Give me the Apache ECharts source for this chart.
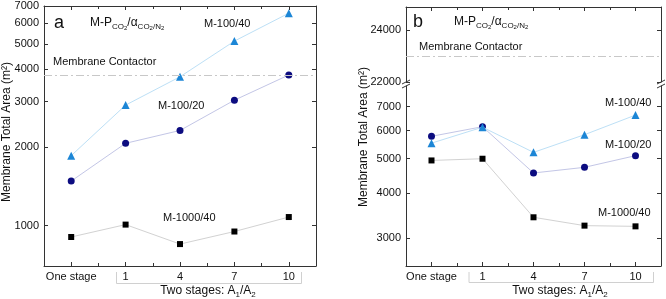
<!DOCTYPE html>
<html><head><meta charset="utf-8">
<script src="https://cdn.jsdelivr.net/npm/echarts@6/dist/echarts.min.js"></script>
<style>html,body{margin:0;padding:0;background:#fff}#c{width:666px;height:299px}</style>
</head><body><div id="c"></div>
<script>
// ---- data ----
var categories = ['One stage', '1', '4', '7', '10'];
var a_M100_40 = [1860, 2910, 3740, 5130, 6570];
var a_M100_20 = [1485, 2075, 2325, 3040, 3800];
var a_M1000_40 = [905, 1010, 850, 950, 1080];
var a_contactor = 3780;
var a_yTicks = [1000, 2000, 3000, 4000, 5000, 6000, 7000];

var b_M100_40 = [5530, 6130, 5210, 5840, 6630];
var b_M100_20 = [5780, 6150, 4560, 4730, 5100];
var b_M1000_40 = [4945, 5000, 3425, 3245, 3230];
var b_contactor = 23000;
var b_yTicksLow = [3000, 4000, 5000, 6000, 7000];
var b_yTicksHigh = [22000, 24000];

// ---- styling ----
var AX = '#333';
var FONT = 'Liberation Sans, Arial, sans-serif';
var chart = echarts.init(document.getElementById('c'), null, {renderer: 'canvas'});

function xMain(grid, pos, labels) {
  return {type: 'category', data: categories, gridIndex: grid, position: pos, boundaryGap: true,
    axisLine: {show: true, lineStyle: {color: AX, width: 1}},
    axisTick: {show: true, inside: true, length: 4, alignWithLabel: true, interval: 0, lineStyle: {color: AX}},
    axisLabel: {show: labels, interval: 0, color: '#111', fontSize: 11, fontFamily: FONT, margin: 5},
    splitLine: {show: false}};
}
function xMinor(grid, pos) {
  return {type: 'category', data: categories, gridIndex: grid, position: pos, boundaryGap: true,
    axisLine: {show: false},
    axisTick: {show: true, inside: true, length: 3, interval: 0, lineStyle: {color: AX}},
    axisLabel: {show: false}, splitLine: {show: false}};
}
function yAx(grid, pos, type, min, max, ticks, labels) {
  return {type: type, gridIndex: grid, position: pos, min: min, max: max,
    axisLine: {show: true, lineStyle: {color: AX, width: 1}},
    axisTick: {show: true, inside: true, length: 4, customValues: ticks, lineStyle: {color: AX}},
    axisLabel: {show: labels, customValues: ticks, color: '#111', fontSize: 11, fontFamily: FONT, margin: 5,
      formatter: function (v) { return String(Math.round(v)); }},
    minorTick: {show: false}, splitLine: {show: false}};
}
function lineSeries(x, y, data, sym, size, mcol, lcol, z) {
  return {type: 'line', xAxisIndex: x, yAxisIndex: y, data: data, symbol: sym, symbolSize: size,
    itemStyle: {color: mcol}, lineStyle: {color: lcol, width: 1}, z: z, silent: true};
}
function contactorLine(v) {
  return {symbol: 'none', silent: true, label: {show: false},
    lineStyle: {color: '#c8c8c8', width: 1, type: [8, 3, 2, 3]}, data: [{yAxis: v}]};
}
function txt(x, y, text, size, extra) {
  var s = {text: text, x: x, y: y, fill: '#111', font: size + 'px ' + FONT, verticalAlign: 'middle', align: 'left'};
  if (extra) for (var k in extra) s[k] = extra[k];
  return {type: 'text', style: s, silent: true, z: 100};
}
var richMP = {
  n: {fontSize: 12, fontFamily: FONT, fill: '#111', lineHeight: 16},
  s: {fontSize: 8, fontFamily: FONT, fill: '#111', verticalAlign: 'bottom', lineHeight: 16},
  ss: {fontSize: 6, fontFamily: FONT, fill: '#111', verticalAlign: 'bottom', lineHeight: 14}
};
function mpLabel(x, y) {
  return {type: 'text', silent: true, z: 100, style: {
    x: x, y: y, verticalAlign: 'middle',
    text: '{n|M-P}{s|CO}{ss|2}{n|/α}{s|CO}{ss|2}{s|/N}{ss|2}', rich: richMP}};
}
function twoStages(x, y) {
  return {type: 'text', silent: true, z: 100, style: {
    x: x, y: y, align: 'center', verticalAlign: 'middle',
    text: '{n|Two stages: A}{s|1}{n|/A}{s|2}',
    rich: {n: {fontSize: 12, fontFamily: FONT, fill: '#111', lineHeight: 16},
           s: {fontSize: 8, fontFamily: FONT, fill: '#111', verticalAlign: 'bottom', lineHeight: 14}}}};
}
function yName(x, y, size) {
  return {type: 'text', silent: true, z: 100, x: x, y: y, rotation: Math.PI / 2, style: {
    x: 0, y: 0, align: 'center', verticalAlign: 'middle', fill: '#111',
    font: size + 'px ' + FONT, text: 'Membrane Total Area (m²)'}};
}
function bracket(x1, x2, yb, yt) {
  return {type: 'polyline', silent: true, shape: {points: [[x1, yt], [x1, yb], [x2, yb], [x2, yt]]},
    style: {stroke: '#d0d0d0', lineWidth: 1, fill: null}};
}
function slash(x, y) {
  return {type: 'line', silent: true, z: 100, shape: {x1: x - 4, y1: y + 2, x2: x + 4, y2: y - 2},
    style: {stroke: AX, lineWidth: 1}};
}

var option = {
  animation: false,
  backgroundColor: '#fff',
  grid: [
    {left: 44, top: 6, width: 272, height: 260},
    {left: 406, top: 7, width: 255, height: 75},
    {left: 406, top: 86, width: 255, height: 180}
  ],
  xAxis: [
    xMain(0, 'bottom', true), xMinor(0, 'bottom'), xMain(0, 'top', false), xMinor(0, 'top'),
    xMain(1, 'top', false), xMinor(1, 'top'),
    xMain(2, 'bottom', true), xMinor(2, 'bottom')
  ],
  yAxis: [
    yAx(0, 'left', 'log', 700, 7000, a_yTicks, true),
    yAx(0, 'right', 'log', 700, 7000, a_yTicks, false),
    yAx(1, 'left', 'value', 22000, 24900, b_yTicksHigh, true),
    yAx(1, 'right', 'value', 22000, 24900, b_yTicksHigh, false),
    yAx(2, 'left', 'log', 2500, 8000, b_yTicksLow, true),
    yAx(2, 'right', 'log', 2500, 8000, b_yTicksLow, false)
  ],
  series: [
    lineSeries(0, 0, a_M100_20, 'circle', 7, '#0c0c80', '#c3c6e6', 3),
    lineSeries(0, 0, a_M100_40, 'triangle', 8, '#1c86d6', '#bde0f6', 4),
    Object.assign(lineSeries(0, 0, a_M1000_40, 'rect', 6, '#000', '#d2d2d2', 2), {markLine: contactorLine(a_contactor)}),
    Object.assign(lineSeries(4, 2, [], 'none', 0, '#000', '#000', 1), {markLine: contactorLine(b_contactor)}),
    lineSeries(6, 4, b_M1000_40, 'rect', 6, '#000', '#d2d2d2', 2),
    lineSeries(6, 4, b_M100_20, 'circle', 7, '#0c0c80', '#c3c6e6', 3),
    lineSeries(6, 4, b_M100_40, 'triangle', 8, '#1c86d6', '#bde0f6', 4)
  ],
  graphic: [
    txt(54, 23, 'a', 18),
    mpLabel(90, 23),
    txt(204, 24, 'M-100/40', 11),
    txt(53, 62, 'Membrane Contactor', 11),
    txt(158, 106, 'M-100/20', 11),
    txt(163, 218, 'M-1000/40', 11),
    twoStages(208, 291),
    bracket(116.5, 301.5, 283.5, 272),
    yName(7, 132, 12),

    txt(413, 22, 'b', 18),
    mpLabel(454, 22),
    txt(419, 47, 'Membrane Contactor', 11),
    txt(605, 103, 'M-100/40', 11),
    txt(605, 145, 'M-100/20', 11),
    txt(598, 213, 'M-1000/40', 11),
    twoStages(560, 291),
    bracket(469, 653.5, 282.5, 272),
    yName(364, 137, 12),

    slash(406, 82), slash(406, 86),
    slash(661, 82), slash(661, 86)
  ]
};
chart.setOption(option);
</script>
</body></html>
